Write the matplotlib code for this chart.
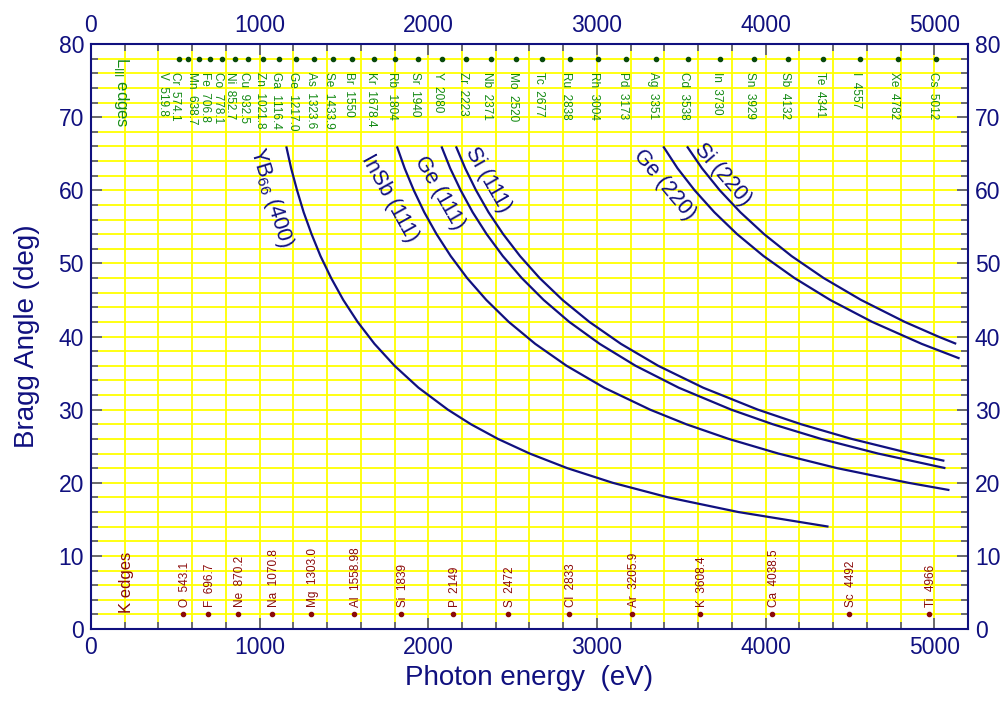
import numpy as np
import matplotlib
matplotlib.use('Agg')
from matplotlib import pyplot as plt
from matplotlib.ticker import MultipleLocator

plt.rcParams['font.family'] = ['Liberation Sans', 'DejaVu Sans']
plt.rcParams['mathtext.fontset'] = 'custom'
plt.rcParams['mathtext.rm'] = 'Liberation Sans'

NAVY = '#10107f'
GREEN = '#138a13'
DKGREEN = '#0a4a0a'
DKRED = '#8a0a0a'

# crystal curves (photon energy eV, Bragg angle deg)
yb66_E = [1158, 1187, 1222, 1261, 1308, 1361, 1424, 1496, 1581, 1681, 1800, 1942, 2116, 2253, 2413, 2601, 2824, 3093, 3423, 3838, 4373]
yb66_th = [66, 63, 60, 57, 54, 51, 48, 45, 42, 39, 36, 33, 30, 28, 26, 24, 22, 20, 18, 16, 14]

insb_E = [1814, 1860, 1914, 1976, 2049, 2133, 2230, 2344, 2477, 2634, 2820, 3043, 3315, 3530, 3781, 4075, 4424, 4846, 5090]
insb_th = [66, 63, 60, 57, 54, 51, 48, 45, 42, 39, 36, 33, 30, 28, 26, 24, 22, 20, 19]

ge111_E = [2078, 2130, 2192, 2263, 2346, 2442, 2554, 2684, 2836, 3016, 3229, 3485, 3796, 4043, 4329, 4666, 5066]
ge111_th = [66, 63, 60, 57, 54, 51, 48, 45, 42, 39, 36, 33, 30, 28, 26, 24, 22]

si111_E = [2164, 2219, 2283, 2357, 2444, 2544, 2660, 2796, 2955, 3142, 3363, 3630, 3954, 4211, 4510, 4861, 5060]
si111_th = [66, 63, 60, 57, 54, 51, 48, 45, 42, 39, 36, 33, 30, 28, 26, 24, 23]

ge220_E = [3393, 3478, 3579, 3696, 3831, 3988, 4171, 4383, 4632, 4925, 5150]
ge220_th = [66, 63, 60, 57, 54, 51, 48, 45, 42, 39, 37]

si220_E = [3534, 3623, 3728, 3850, 3991, 4154, 4344, 4566, 4825, 5023, 5130]
si220_th = [66, 63, 60, 57, 54, 51, 48, 45, 42, 40, 39]

# L_III absorption edges
l_elem = ['V', 'Cr', 'Mn', 'Fe', 'Co', 'Ni', 'Cu', 'Zn', 'Ga', 'Ge', 'As', 'Se', 'Br', 'Kr', 'Rb', 'Sr',
          'Y', 'Zr', 'Nb', 'Mo', 'Tc', 'Ru', 'Rh', 'Pd', 'Ag', 'Cd', 'In', 'Sn', 'Sb', 'Te', 'I', 'Xe', 'Cs']
l_text = ['519.8', '574.1', '638.7', '706.8', '778.1', '852.7', '932.5', '1021.8', '1116.4', '1217.0',
          '1323.6', '1433.9', '1550', '1678.4', '1804', '1940', '2080', '2223', '2371', '2520', '2677',
          '2838', '3004', '3173', '3351', '3538', '3730', '3929', '4132', '4341', '4557', '4782', '5012']
l_energy = [float(t) for t in l_text]

# K absorption edges
k_elem = ['O', 'F', 'Ne', 'Na', 'Mg', 'Al', 'Si', 'P', 'S', 'Cl', 'Ar', 'K', 'Ca', 'Sc', 'Ti']
k_text = ['543.1', '696.7', '870.2', '1070.8', '1303.0', '1558.98', '1839', '2149', '2472', '2833',
          '3205.9', '3608.4', '4038.5', '4492', '4966']
k_energy = [float(t) for t in k_text]

fig = plt.figure(figsize=(10.05, 7.09), dpi=100)
ax = fig.add_axes([0.0905, 0.1128, 0.8727, 0.8251])

ax.set_xlim(0, 5200)
ax.set_ylim(0, 80)
ax.xaxis.set_major_locator(MultipleLocator(1000))
ax.xaxis.set_minor_locator(MultipleLocator(200))
ax.yaxis.set_major_locator(MultipleLocator(10))
ax.yaxis.set_minor_locator(MultipleLocator(2))

ax.grid(True, which='both', color='#ffff00', lw=1.3)
ax.set_axisbelow(True)

ax.tick_params(which='both', direction='in', top=True, right=True, labeltop=True, labelright=True,
               colors='#505080', labelcolor=NAVY, labelsize=16.5, pad=5)
ax.tick_params(which='major', length=8, width=1.2)
ax.tick_params(which='minor', length=5, width=1.2)
for s in ax.spines.values():
    s.set_color(NAVY)
    s.set_linewidth(1.5)

ax.set_xlabel('Photon energy  (eV)', fontsize=20, color=NAVY, labelpad=4)
ax.set_ylabel('Bragg Angle (deg)', fontsize=20, color=NAVY, labelpad=13)

# curves
for E, th in [(yb66_E, yb66_th), (insb_E, insb_th), (ge111_E, ge111_th),
              (si111_E, si111_th), (ge220_E, ge220_th), (si220_E, si220_th)]:
    ax.plot(E, th, color=NAVY, lw=1.6, solid_capstyle='butt')

lab = dict(color=NAVY, fontsize=15.5, ha='center', va='center', rotation_mode='anchor')
ax.text(1066, 59.0, r'YB$_{66}$ (400)', rotation=-73, **lab)
ax.text(1774, 58.9, 'InSb (111)', rotation=-61, **lab)
ax.text(2065, 59.7, 'Ge (111)', rotation=-60, **lab)
ax.text(2356, 61.4, 'Si (111)', rotation=-60, **lab)
ax.text(3402, 60.7, 'Ge (220)', rotation=-50, **lab)
ax.text(3746, 62.1, 'Si (220)', rotation=-49, **lab)

# L_III edges
ax.plot(l_energy, [78] * len(l_energy), 'o', ms=3, color=DKGREEN)
# crowded low-energy labels are pushed left, as in the original
nudge = {'V': -95, 'Cr': -78, 'Mn': -42, 'Fe': -33, 'Co': -26, 'Ni': -30, 'Cu': -26}
for el, t, e in zip(l_elem, l_text, l_energy):
    ax.text(e + nudge.get(el, -20), 76.2, f'{el}  {t}', rotation=270, ha='center', va='top',
            fontsize=8.5, color=GREEN)
ax.text(180, 78.2, r'L$_{\rm III}$ edges', rotation=270, ha='center', va='top', fontsize=12, color=GREEN)

# K edges
ax.plot(k_energy, [2] * len(k_energy), 'o', ms=3, color=DKRED)
for el, t, e in zip(k_elem, k_text, k_energy):
    ax.text(e + 12, 3.0, f'{el}  {t}', rotation=90, ha='center', va='bottom',
            fontsize=8.5, color=DKRED)
ax.text(210, 2.2, 'K edges', rotation=90, ha='center', va='bottom', fontsize=12, color=DKRED)

plt.savefig('out.png', dpi=100)
plt.close()
